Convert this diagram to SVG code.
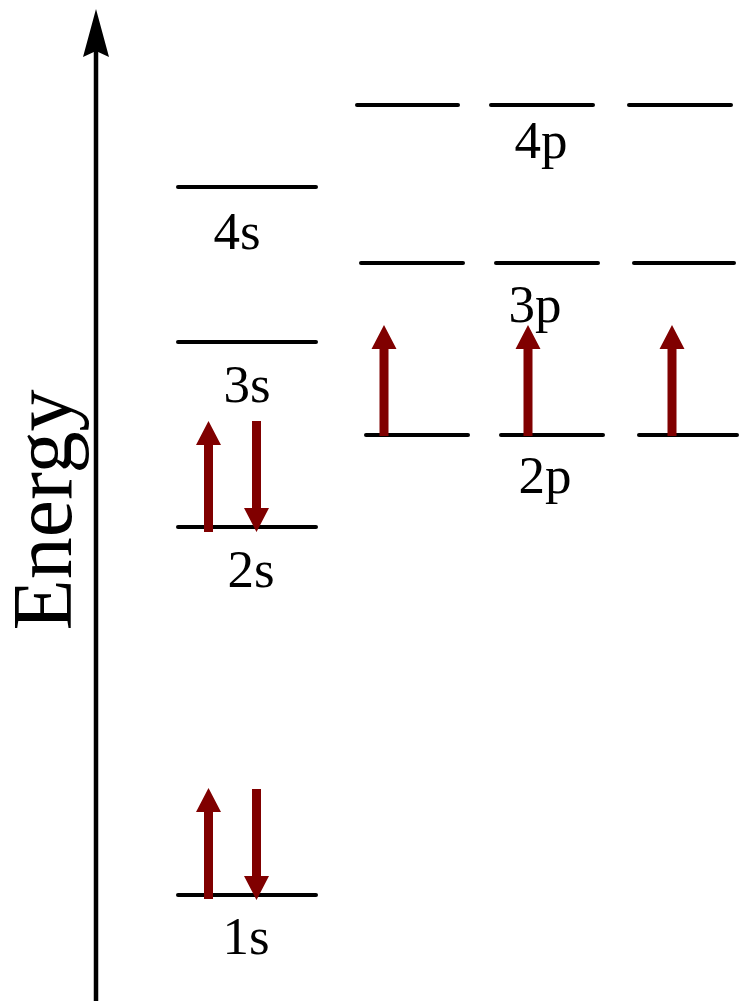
<svg xmlns="http://www.w3.org/2000/svg" width="739" height="1001" viewBox="0 0 739 1001">
<style>
.lvl{stroke:#000;stroke-width:4;stroke-linecap:round;fill:none}
.lbl{font-family:"Liberation Serif","Times New Roman",serif;font-size:53px;fill:#000;text-anchor:middle}
.spin{fill:#800000}
</style>
<defs>
<path id="up" d="M0,0 L12.5,24 L4.5,24 L4.5,111 L-4.5,111 L-4.5,24 L-12.5,24 Z"/>
</defs>
<rect width="739" height="1001" fill="#fff"/>
<g id="axis">
<line x1="96" y1="1001" x2="96" y2="50" stroke="#000" stroke-width="4.5"/>
<path d="M96,9 L109,57 L96,51 L83,57 Z" fill="#000"/>
<text class="lbl" transform="translate(71,510) rotate(-90)" style="font-size:84px">Energy</text>
</g>
<g id="s1">
<line class="lvl" x1="178" y1="895" x2="316" y2="895"/>
<text class="lbl" x="246" y="954">1s</text>
</g>
<g id="s2">
<line class="lvl" x1="178" y1="527" x2="316" y2="527"/>
<text class="lbl" x="251" y="587">2s</text>
</g>
<g id="s3">
<line class="lvl" x1="178" y1="342" x2="316" y2="342"/>
<text class="lbl" x="247" y="402">3s</text>
</g>
<g id="s4">
<line class="lvl" x1="178" y1="187" x2="316" y2="187"/>
<text class="lbl" x="237" y="249">4s</text>
</g>
<g id="p2">
<line class="lvl" x1="366" y1="435" x2="468" y2="435"/>
<line class="lvl" x1="501" y1="435" x2="603" y2="435"/>
<line class="lvl" x1="639" y1="435" x2="737" y2="435"/>
<text class="lbl" x="545" y="493">2p</text>
</g>
<g id="p3">
<line class="lvl" x1="361" y1="263" x2="463" y2="263"/>
<line class="lvl" x1="496" y1="263" x2="598" y2="263"/>
<line class="lvl" x1="634" y1="263" x2="734" y2="263"/>
<text class="lbl" x="535" y="322">3p</text>
</g>
<g id="p4">
<line class="lvl" x1="357" y1="105" x2="458" y2="105"/>
<line class="lvl" x1="491" y1="105" x2="593" y2="105"/>
<line class="lvl" x1="629" y1="105" x2="731" y2="105"/>
<text class="lbl" x="541" y="158">4p</text>
</g>
<g id="electrons">
<use href="#up" class="spin" transform="translate(208.5,788)"/>
<use href="#up" class="spin" transform="translate(256.5,900) rotate(180)"/>
<use href="#up" class="spin" transform="translate(208.5,421)"/>
<use href="#up" class="spin" transform="translate(256.5,532) rotate(180)"/>
<use href="#up" class="spin" transform="translate(384,325)"/>
<use href="#up" class="spin" transform="translate(528,325)"/>
<use href="#up" class="spin" transform="translate(672,325)"/>
</g>
</svg>
